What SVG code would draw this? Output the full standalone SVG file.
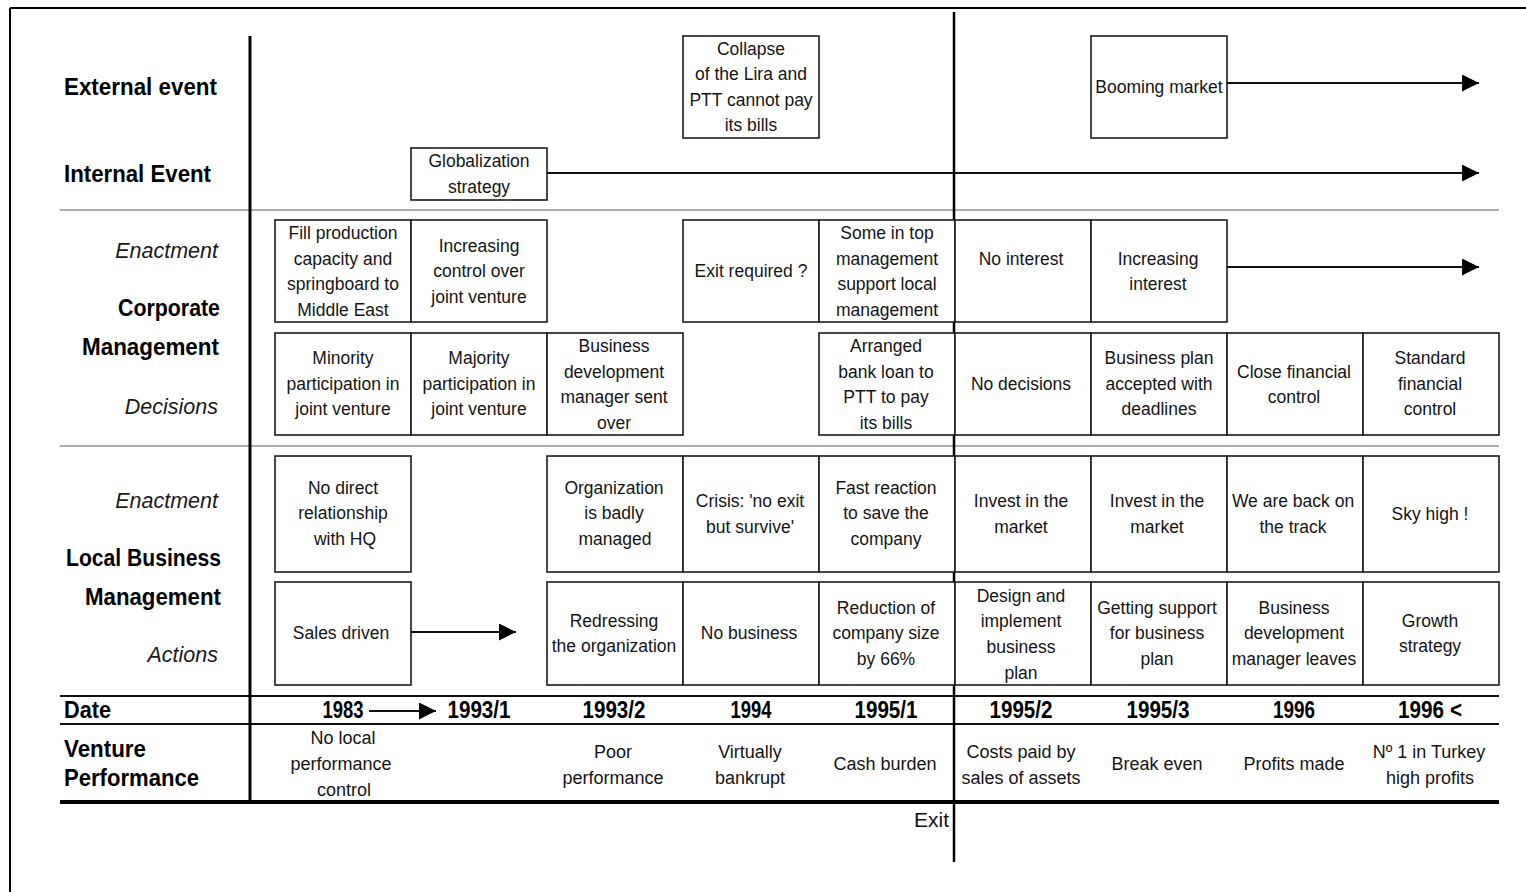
<svg xmlns="http://www.w3.org/2000/svg" width="1526" height="892" viewBox="0 0 1526 892">
  <defs>
    <style>
      .bx { fill: #ffffff; stroke: #1c1c1c; stroke-width: 1.6; }
      .t { font-family: "Liberation Sans", Arial, sans-serif; font-size: 17.5px; fill: #141414; text-anchor: middle; }
      .vp { font-family: "Liberation Sans", Arial, sans-serif; font-size: 18px; fill: #141414; text-anchor: middle; }
      .ex { font-family: "Liberation Sans", Arial, sans-serif; font-size: 21px; fill: #141414; text-anchor: end; }
      .lb { font-family: "Liberation Sans", Arial, sans-serif; font-size: 23px; font-weight: bold; fill: #000; }
      .li { font-family: "Liberation Sans", Arial, sans-serif; font-size: 21.5px; font-style: italic; fill: #1a1a1a; text-anchor: end; }
      .dt { font-family: "Liberation Sans", Arial, sans-serif; font-size: 23.5px; font-weight: bold; fill: #000; text-anchor: middle; }
      .r { text-anchor: end; }
      .gray { stroke: #ababab; stroke-width: 2; }
      .blk { stroke: #111; stroke-width: 2; }
      .arr { stroke: #111; stroke-width: 1.8; fill: none; marker-end: url(#head); }
    </style>
    <marker id="head" markerUnits="userSpaceOnUse" markerWidth="18" markerHeight="18" refX="17" refY="8.5" orient="auto">
      <path d="M0,0 L17,8.5 L0,17 Z" fill="#000"/>
    </marker>
  </defs>

  <rect x="0" y="0" width="1526" height="892" fill="#ffffff"/>

  <!-- page frame -->
  <g id="frame">
    <line x1="10" y1="8" x2="1526" y2="8" stroke="#000" stroke-width="2"/>
    <line x1="10" y1="8" x2="10" y2="892" stroke="#000" stroke-width="2"/>
  </g>

  <!-- grid lines -->
  <g id="grid">
    <line class="gray" x1="60" y1="210" x2="1499" y2="210"/>
    <line class="gray" x1="60" y1="446" x2="1499" y2="446"/>
    <line class="blk" x1="60" y1="696" x2="1499" y2="696"/>
    <line class="blk" x1="60" y1="724" x2="1499" y2="724"/>
    <line x1="60" y1="802" x2="1499" y2="802" stroke="#000" stroke-width="4"/>
    <line x1="250" y1="36" x2="250" y2="804" stroke="#000" stroke-width="3"/>
    <line x1="954" y1="12" x2="954" y2="862" stroke="#000" stroke-width="2.5"/>
  </g>

  <!-- row labels -->
  <g id="labels">
    <text class="lb" x="64" y="95" textLength="153" lengthAdjust="spacingAndGlyphs">External event</text>
    <text class="lb" x="64" y="182" textLength="147" lengthAdjust="spacingAndGlyphs">Internal Event</text>
    <text class="li" x="218" y="258">Enactment</text>
    <text class="lb r" x="220" y="316" textLength="102" lengthAdjust="spacingAndGlyphs">Corporate</text>
    <text class="lb r" x="219" y="355" textLength="137" lengthAdjust="spacingAndGlyphs">Management</text>
    <text class="li" x="218" y="414">Decisions</text>
    <text class="li" x="218" y="508">Enactment</text>
    <text class="lb r" x="221" y="566" textLength="155" lengthAdjust="spacingAndGlyphs">Local Business</text>
    <text class="lb r" x="221" y="605" textLength="136" lengthAdjust="spacingAndGlyphs">Management</text>
    <text class="li" x="218" y="662">Actions</text>
    <text class="lb" x="64" y="718" textLength="47" lengthAdjust="spacingAndGlyphs">Date</text>
    <text class="lb" x="64" y="757" textLength="82" lengthAdjust="spacingAndGlyphs">Venture</text>
    <text class="lb" x="64" y="786" textLength="135" lengthAdjust="spacingAndGlyphs">Performance</text>
  </g>

  <!-- external events -->
  <g id="n-collapse">
    <rect class="bx" x="683" y="36" width="136" height="102"/>
    <text class="t"><tspan x="751" y="55">Collapse</tspan><tspan x="751" y="80">of the Lira and</tspan><tspan x="751" y="106">PTT cannot pay</tspan><tspan x="751" y="131">its bills</tspan></text>
  </g>
  <g id="n-booming">
    <rect class="bx" x="1091" y="36" width="136" height="102"/>
    <text class="t" x="1159" y="93">Booming market</text>
  </g>

  <!-- internal event -->
  <g id="n-globalization">
    <rect class="bx" x="411" y="148" width="136" height="52"/>
    <text class="t"><tspan x="479" y="167">Globalization</tspan><tspan x="479" y="193">strategy</tspan></text>
  </g>

  <!-- corporate enactment -->
  <g id="n-fill">
    <rect class="bx" x="275" y="220" width="136" height="102"/>
    <text class="t"><tspan x="343" y="239">Fill production</tspan><tspan x="343" y="265">capacity and</tspan><tspan x="343" y="290">springboard to</tspan><tspan x="343" y="316">Middle East</tspan></text>
  </g>
  <g id="n-incctrl">
    <rect class="bx" x="411" y="220" width="136" height="102"/>
    <text class="t"><tspan x="479" y="252">Increasing</tspan><tspan x="479" y="277">control over</tspan><tspan x="479" y="303">joint venture</tspan></text>
  </g>
  <g id="n-exitreq">
    <rect class="bx" x="683" y="220" width="136" height="102"/>
    <text class="t" x="751" y="277">Exit required ?</text>
  </g>
  <g id="n-sometop">
    <rect class="bx" x="819" y="220" width="136" height="102"/>
    <text class="t"><tspan x="887" y="239">Some in top</tspan><tspan x="887" y="265">management</tspan><tspan x="887" y="290">support local</tspan><tspan x="887" y="316">management</tspan></text>
  </g>
  <g id="n-nointerest">
    <rect class="bx" x="955" y="220" width="136" height="102"/>
    <text class="t" x="1021" y="265">No interest</text>
  </g>
  <g id="n-incinterest">
    <rect class="bx" x="1091" y="220" width="136" height="102"/>
    <text class="t"><tspan x="1158" y="265">Increasing</tspan><tspan x="1158" y="290">interest</tspan></text>
  </g>

  <!-- corporate decisions -->
  <g id="n-minority">
    <rect class="bx" x="275" y="333" width="136" height="102"/>
    <text class="t"><tspan x="343" y="364">Minority</tspan><tspan x="343" y="390">participation in</tspan><tspan x="343" y="415">joint venture</tspan></text>
  </g>
  <g id="n-majority">
    <rect class="bx" x="411" y="333" width="136" height="102"/>
    <text class="t"><tspan x="479" y="364">Majority</tspan><tspan x="479" y="390">participation in</tspan><tspan x="479" y="415">joint venture</tspan></text>
  </g>
  <g id="n-bdmsent">
    <rect class="bx" x="547" y="333" width="136" height="102"/>
    <text class="t"><tspan x="614" y="352">Business</tspan><tspan x="614" y="378">development</tspan><tspan x="614" y="403">manager sent</tspan><tspan x="614" y="429">over</tspan></text>
  </g>
  <g id="n-bankloan">
    <rect class="bx" x="819" y="333" width="136" height="102"/>
    <text class="t"><tspan x="886" y="352">Arranged</tspan><tspan x="886" y="378">bank loan to</tspan><tspan x="886" y="403">PTT to pay</tspan><tspan x="886" y="429">its bills</tspan></text>
  </g>
  <g id="n-nodecisions">
    <rect class="bx" x="955" y="333" width="136" height="102"/>
    <text class="t" x="1021" y="390">No decisions</text>
  </g>
  <g id="n-bizplan">
    <rect class="bx" x="1091" y="333" width="136" height="102"/>
    <text class="t"><tspan x="1159" y="364">Business plan</tspan><tspan x="1159" y="390">accepted with</tspan><tspan x="1159" y="415">deadlines</tspan></text>
  </g>
  <g id="n-closefin">
    <rect class="bx" x="1227" y="333" width="136" height="102"/>
    <text class="t"><tspan x="1294" y="378">Close financial</tspan><tspan x="1294" y="403">control</tspan></text>
  </g>
  <g id="n-stdfin">
    <rect class="bx" x="1363" y="333" width="136" height="102"/>
    <text class="t"><tspan x="1430" y="364">Standard</tspan><tspan x="1430" y="390">financial</tspan><tspan x="1430" y="415">control</tspan></text>
  </g>

  <!-- local enactment -->
  <g id="n-nodirect">
    <rect class="bx" x="275" y="456" width="136" height="116"/>
    <text class="t"><tspan x="343" y="494">No direct</tspan><tspan x="343" y="519">relationship</tspan><tspan x="345" y="545">with HQ</tspan></text>
  </g>
  <g id="n-badly">
    <rect class="bx" x="547" y="456" width="136" height="116"/>
    <text class="t"><tspan x="614" y="494">Organization</tspan><tspan x="614" y="519">is badly</tspan><tspan x="615" y="545">managed</tspan></text>
  </g>
  <g id="n-crisis">
    <rect class="bx" x="683" y="456" width="136" height="116"/>
    <text class="t"><tspan x="750" y="507">Crisis: 'no exit</tspan><tspan x="750" y="533">but survive'</tspan></text>
  </g>
  <g id="n-fast">
    <rect class="bx" x="819" y="456" width="136" height="116"/>
    <text class="t"><tspan x="886" y="494">Fast reaction</tspan><tspan x="886" y="519">to save the</tspan><tspan x="886" y="545">company</tspan></text>
  </g>
  <g id="n-invest1">
    <rect class="bx" x="955" y="456" width="136" height="116"/>
    <text class="t"><tspan x="1021" y="507">Invest in the</tspan><tspan x="1021" y="533">market</tspan></text>
  </g>
  <g id="n-invest2">
    <rect class="bx" x="1091" y="456" width="136" height="116"/>
    <text class="t"><tspan x="1157" y="507">Invest in the</tspan><tspan x="1157" y="533">market</tspan></text>
  </g>
  <g id="n-backtrack">
    <rect class="bx" x="1227" y="456" width="136" height="116"/>
    <text class="t"><tspan x="1293" y="507">We are back on</tspan><tspan x="1293" y="533">the track</tspan></text>
  </g>
  <g id="n-skyhigh">
    <rect class="bx" x="1363" y="456" width="136" height="116"/>
    <text class="t" x="1430" y="520">Sky high !</text>
  </g>

  <!-- local actions -->
  <g id="n-sales">
    <rect class="bx" x="275" y="582" width="136" height="103"/>
    <text class="t" x="341" y="639">Sales driven</text>
  </g>
  <g id="n-redress">
    <rect class="bx" x="547" y="582" width="136" height="103"/>
    <text class="t"><tspan x="614" y="627">Redressing</tspan><tspan x="614" y="652">the organization</tspan></text>
  </g>
  <g id="n-nobusiness">
    <rect class="bx" x="683" y="582" width="136" height="103"/>
    <text class="t" x="749" y="639">No business</text>
  </g>
  <g id="n-reduction">
    <rect class="bx" x="819" y="582" width="136" height="103"/>
    <text class="t"><tspan x="886" y="614">Reduction of</tspan><tspan x="886" y="639">company size</tspan><tspan x="886" y="665">by 66%</tspan></text>
  </g>
  <g id="n-design">
    <rect class="bx" x="955" y="582" width="136" height="103"/>
    <text class="t"><tspan x="1021" y="602">Design and</tspan><tspan x="1021" y="627">implement</tspan><tspan x="1021" y="653">business</tspan><tspan x="1021" y="679">plan</tspan></text>
  </g>
  <g id="n-support">
    <rect class="bx" x="1091" y="582" width="136" height="103"/>
    <text class="t"><tspan x="1157" y="614">Getting support</tspan><tspan x="1157" y="639">for business</tspan><tspan x="1157" y="665">plan</tspan></text>
  </g>
  <g id="n-bdmleaves">
    <rect class="bx" x="1227" y="582" width="136" height="103"/>
    <text class="t"><tspan x="1294" y="614">Business</tspan><tspan x="1294" y="639">development</tspan><tspan x="1294" y="665">manager leaves</tspan></text>
  </g>
  <g id="n-growth">
    <rect class="bx" x="1363" y="582" width="136" height="103"/>
    <text class="t"><tspan x="1430" y="627">Growth</tspan><tspan x="1430" y="652">strategy</tspan></text>
  </g>

  <!-- dates -->
  <g id="dates">
    <text class="dt" x="343" y="718" textLength="41" lengthAdjust="spacingAndGlyphs">1983</text>
    <text class="dt" x="479" y="718" textLength="63" lengthAdjust="spacingAndGlyphs">1993/1</text>
    <text class="dt" x="614" y="718" textLength="63" lengthAdjust="spacingAndGlyphs">1993/2</text>
    <text class="dt" x="751" y="718" textLength="41" lengthAdjust="spacingAndGlyphs">1994</text>
    <text class="dt" x="886" y="718" textLength="63" lengthAdjust="spacingAndGlyphs">1995/1</text>
    <text class="dt" x="1021" y="718" textLength="63" lengthAdjust="spacingAndGlyphs">1995/2</text>
    <text class="dt" x="1158" y="718" textLength="63" lengthAdjust="spacingAndGlyphs">1995/3</text>
    <text class="dt" x="1294" y="718" textLength="42" lengthAdjust="spacingAndGlyphs">1996</text>
    <text class="dt" x="1430" y="718" textLength="64" lengthAdjust="spacingAndGlyphs">1996 &lt;</text>
  </g>

  <!-- venture performance -->
  <g id="performance">
    <text class="vp"><tspan x="343" y="744">No local</tspan><tspan x="341" y="770">performance</tspan><tspan x="344" y="796">control</tspan></text>
    <text class="vp"><tspan x="613" y="758">Poor</tspan><tspan x="613" y="784">performance</tspan></text>
    <text class="vp"><tspan x="750" y="758">Virtually</tspan><tspan x="750" y="784">bankrupt</tspan></text>
    <text class="vp" x="885" y="770">Cash burden</text>
    <text class="vp"><tspan x="1021" y="758">Costs paid by</tspan><tspan x="1021" y="784">sales of assets</tspan></text>
    <text class="vp" x="1157" y="770">Break even</text>
    <text class="vp" x="1294" y="770">Profits made</text>
    <text class="vp"><tspan x="1429" y="758">Nº 1 in Turkey</tspan><tspan x="1430" y="784">high profits</tspan></text>
    <text class="ex" x="949" y="827">Exit</text>
  </g>

  <!-- connectors -->
  <g id="connectors">
    <line class="arr" x1="1227" y1="83" x2="1479" y2="83"/>
    <line class="arr" x1="547" y1="173" x2="1479" y2="173"/>
    <line class="arr" x1="1227" y1="267" x2="1479" y2="267"/>
    <line class="arr" x1="411" y1="632" x2="516" y2="632"/>
    <line class="arr" x1="369" y1="711" x2="436" y2="711"/>
  </g>
</svg>
